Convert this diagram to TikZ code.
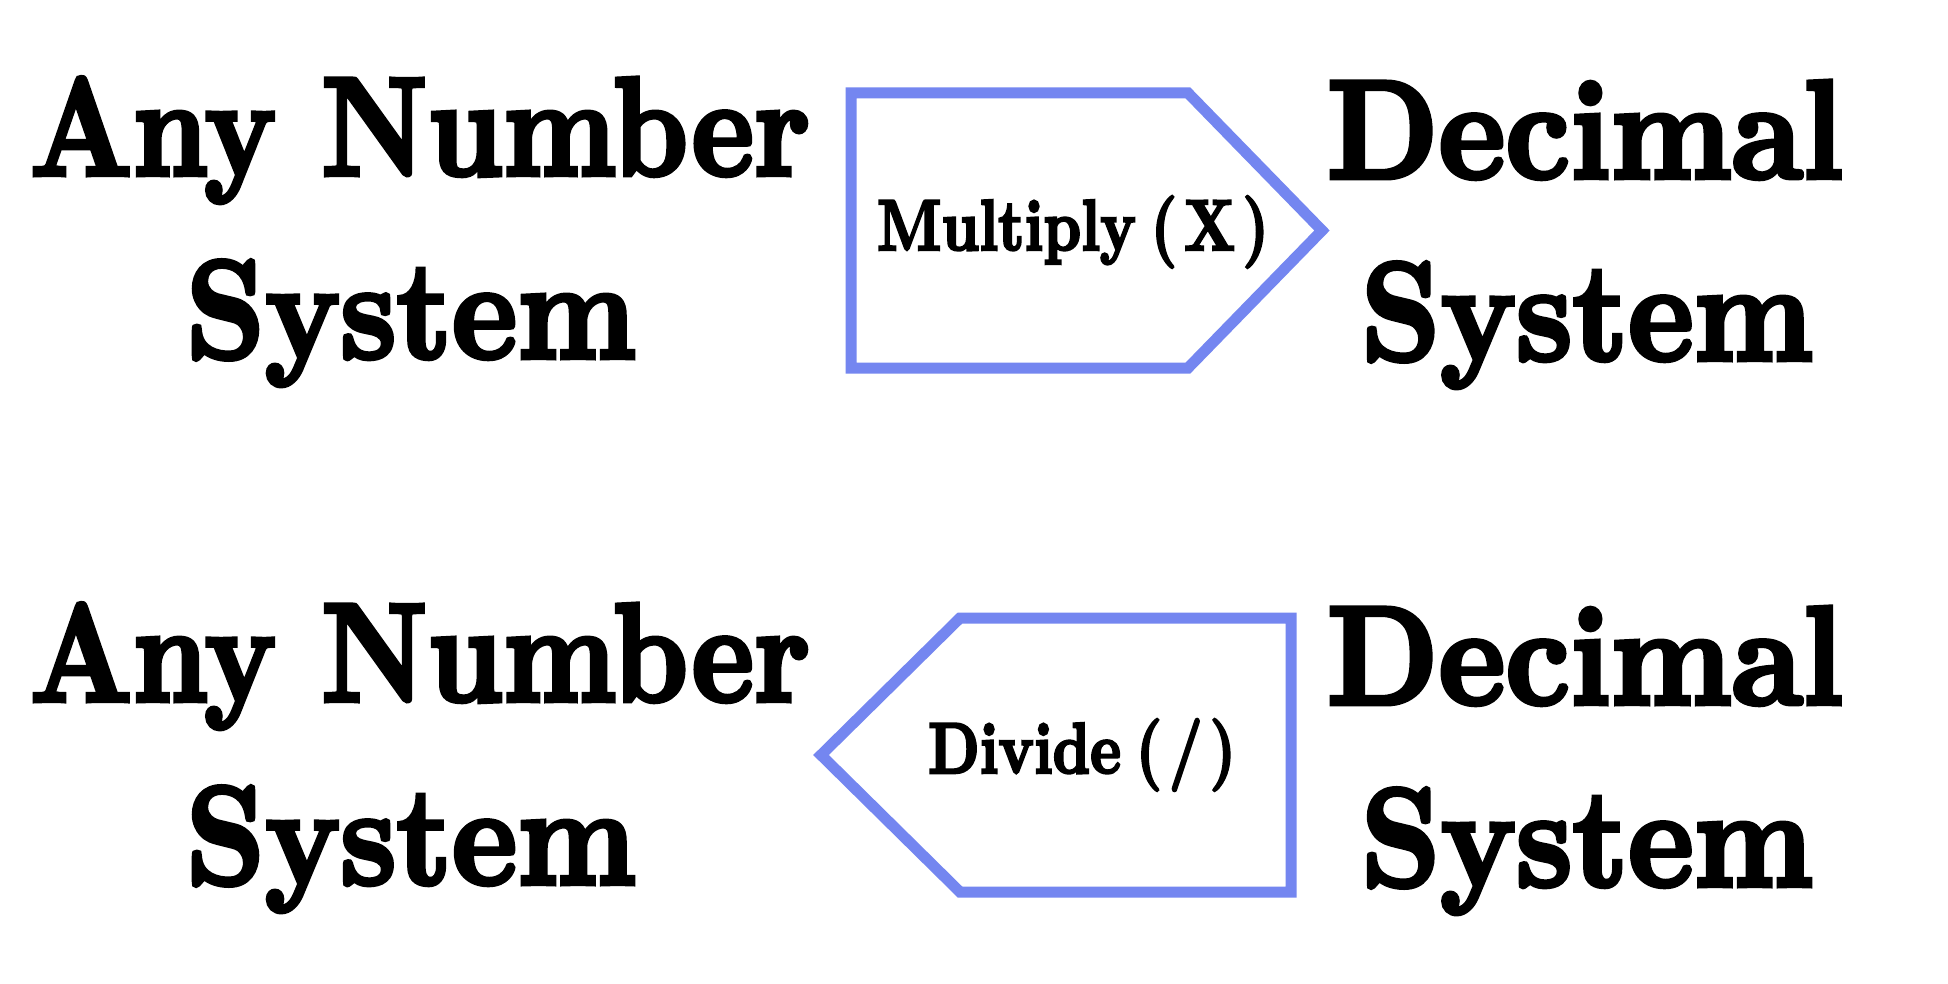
\documentclass[tikz,border=0pt]{standalone}
\usepackage{fontspec}
\usepackage{graphicx}
\newfontfamily\heavyfont{lmroman10-bold.otf}[FakeBold=3.5]
\definecolor{boxblue}{RGB}{116,134,240}
\tikzset{
  bigtext/.style={anchor=base, inner sep=0pt, font=\fontsize{140}{168}\selectfont\heavyfont},
  labtext/.style={anchor=base, inner sep=0pt, font=\fontsize{72}{86}\selectfont\heavyfont},
  arrowbox/.style={draw=boxblue, line width=11pt, line join=miter, miter limit=10}
}
\begin{document}
\begin{tikzpicture}[x=1pt,y=-1pt]
\useasboundingbox (0,0) rectangle (1948,984);
\fill[white] (0,0) rectangle (1948,984);

% top row
\node[bigtext] (anyA) at (420,175) {\resizebox{780pt}{\height}{Any Number}};
\node[bigtext] (sysA) at (411,358) {\resizebox{450pt}{\height}{System}};
\node[bigtext] (decA) at (1585,178) {\resizebox{516pt}{\height}{Decimal}};
\node[bigtext] (sysB) at (1587,360) {\resizebox{452pt}{\height}{System}};
\draw[arrowbox] (851,93) -- (1188,93) -- (1322,230.5) -- (1188,368) -- (851,368) -- cycle;
\node[labtext] (mul) at (1073,250) {\resizebox{392pt}{\height}{Multiply\hspace{0.25em}(\hspace{0.12em}X\hspace{0.12em})}};

% bottom row
\node[bigtext] (anyC) at (420,701) {\resizebox{780pt}{\height}{Any Number}};
\node[bigtext] (sysC) at (411,884) {\resizebox{450pt}{\height}{System}};
\node[bigtext] (decD) at (1585,704) {\resizebox{516pt}{\height}{Decimal}};
\node[bigtext] (sysD) at (1587,886) {\resizebox{452pt}{\height}{System}};
\draw[arrowbox] (1291,618) -- (960,618) -- (821,755) -- (960,892) -- (1291,892) -- cycle;
\node[labtext] (dvd) at (1082,773) {\resizebox{308pt}{\height}{Divide\hspace{0.25em}(\hspace{0.12em}/\hspace{0.12em})}};
\end{tikzpicture}
\end{document}
